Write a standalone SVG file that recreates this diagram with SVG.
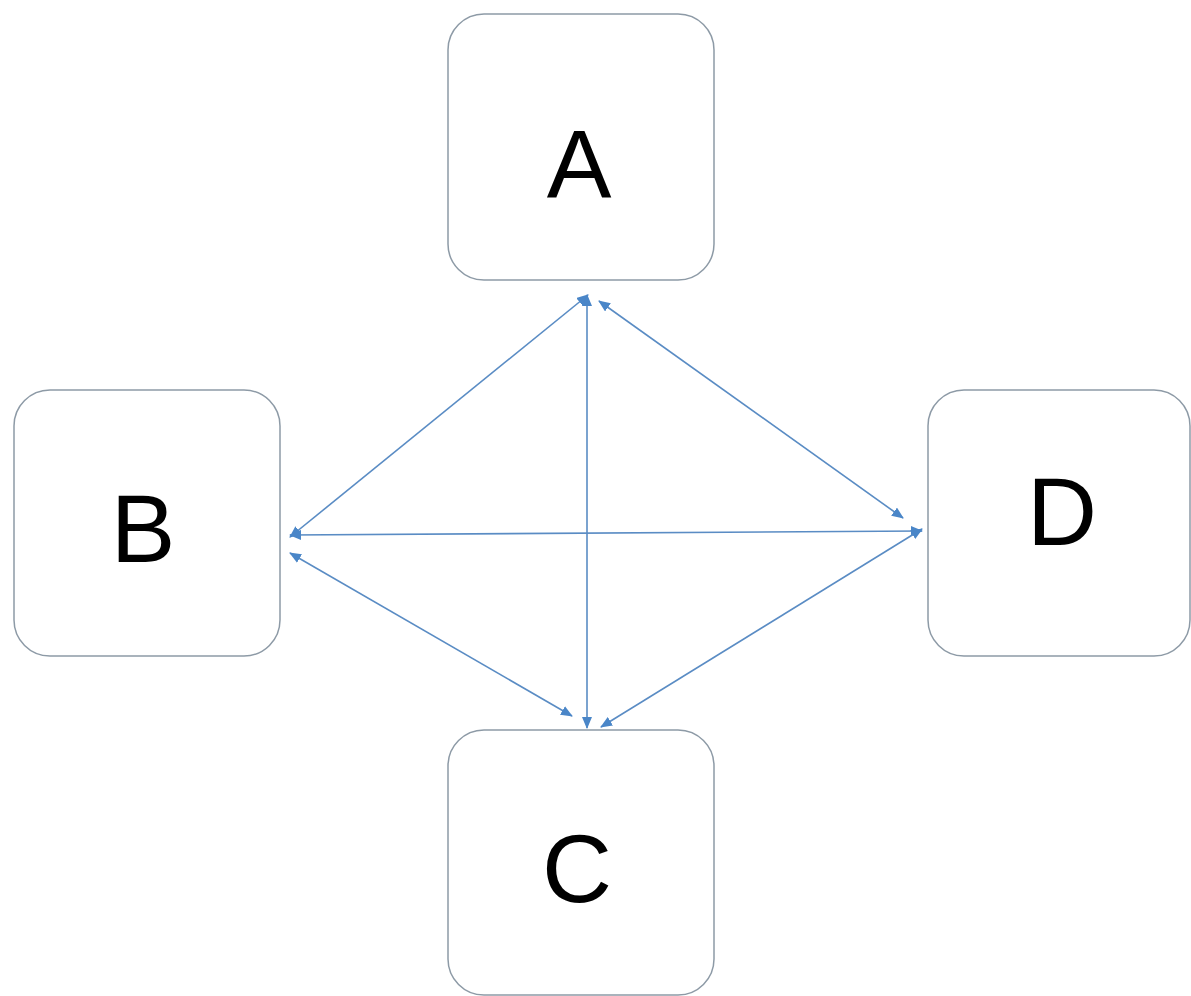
<svg xmlns="http://www.w3.org/2000/svg" width="1191" height="996" viewBox="0 0 1191 996">
<style>
.box{fill:#ffffff;stroke:#8d9aa6;stroke-width:1.5}
.lbl{font-family:"Liberation Sans",Arial,sans-serif;font-size:97px;fill:#000000;text-anchor:middle}
.con{stroke:#5a8cc4;stroke-width:1.6;fill:none;marker-start:url(#ah);marker-end:url(#ah)}
</style>
<defs>
<marker id="ah" viewBox="0 0 12 10" refX="11" refY="5" markerWidth="12" markerHeight="10" markerUnits="userSpaceOnUse" orient="auto-start-reverse">
<path d="M0,0 L12,5 L0,10 Z" fill="#4a86c8"/>
</marker>
</defs>
<rect width="1191" height="996" fill="#ffffff"/>
<g id="node-A"><rect class="box" x="448" y="14" width="266" height="266" rx="36"/><text class="lbl" x="579" y="197">A</text></g>
<g id="node-B"><rect class="box" x="14" y="390" width="266" height="266" rx="36"/><text class="lbl" x="143" y="562">B</text></g>
<g id="node-D"><rect class="box" x="928" y="390" width="262" height="266" rx="36"/><text class="lbl" x="1062" y="545">D</text></g>
<g id="node-C"><rect class="box" x="448" y="730" width="266" height="265" rx="36"/><text class="lbl" x="577" y="902">C</text></g>
<g id="connectors">
<line class="con" x1="588" y1="295" x2="290" y2="537"/>
<line class="con" x1="290" y1="535" x2="922" y2="531"/>
<line class="con" x1="587" y1="295" x2="587" y2="728"/>
<line class="con" x1="599" y1="301" x2="903" y2="518"/>
<line class="con" x1="290" y1="553" x2="572" y2="716"/>
<line class="con" x1="601" y1="727" x2="922" y2="529"/>
</g>
</svg>
